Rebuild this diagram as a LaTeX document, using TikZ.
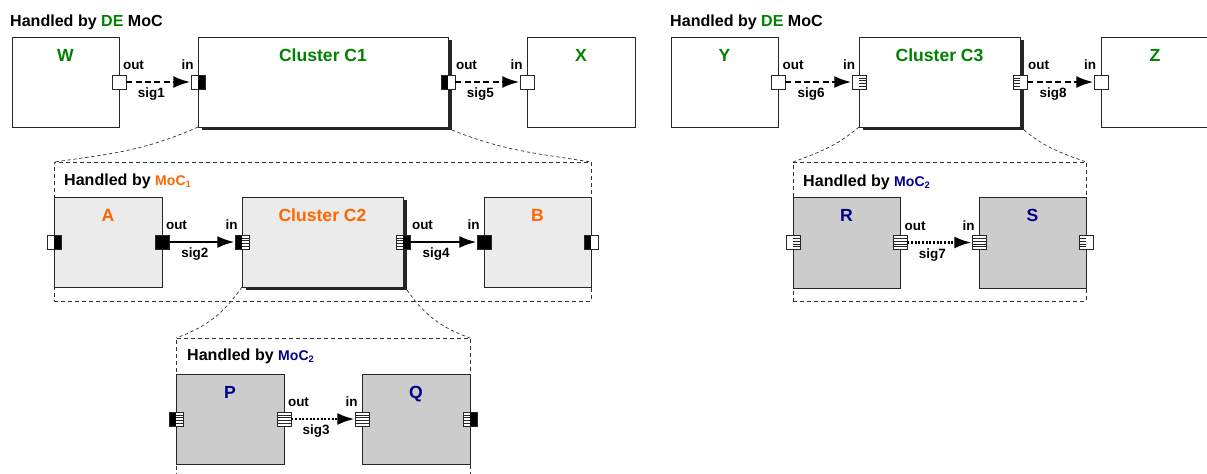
\documentclass[tikz,border=0pt]{standalone}
\usepackage{fontspec}
\setmainfont{Liberation Sans}
\usetikzlibrary{arrows.meta,positioning,calc,fit,shadows}
\definecolor{degreen}{RGB}{0,130,0}
\definecolor{mocorange}{RGB}{255,102,0}
\definecolor{mocblue}{RGB}{0,0,140}
\definecolor{boxlight}{gray}{0.92}
\definecolor{boxdark}{gray}{0.80}
\newcommand\grpfont{\fontsize{13.7}{16}\selectfont\bfseries}
\newcommand\ttlfont{\fontsize{15}{18}\selectfont\bfseries}
\newcommand\lblfont{\fontsize{11.5}{14}\selectfont\bfseries}
\newcommand\mocfont{\fontsize{12}{14}\selectfont}
% port halves: w = white, b = black, s = striped
\newcommand\prtw[1]{}
\newcommand\prtb[1]{\fill[black] (path picture bounding box.north #1) rectangle (path picture bounding box.south);}
\newcommand\prts[1]{\foreach \f in {0.2,0.4,0.6,0.8}
  \draw[line width=0.5pt] ($(path picture bounding box.north #1)!\f!(path picture bounding box.south #1)$) -- ($(path picture bounding box.north)!\f!(path picture bounding box.south)$);}
\tikzset{
  blk/.style={draw=black!85, line width=0.7pt, fill=white, inner sep=0pt, outer sep=0pt},
  clu/.style={blk, drop shadow={shadow xshift=0.12cm, shadow yshift=-0.09cm, fill=black!85, opacity=1}},
  grp/.style={draw=black!80, line width=0.6pt, dash pattern=on 0.12cm off 0.09cm, inner sep=0pt, outer sep=0pt},
  zoomln/.style={black!80, line width=0.6pt, dash pattern=on 0.1cm off 0.08cm},
  port/.style 2 args={draw=black!85, fill=white, line width=0.6pt, minimum size=0.42cm, inner sep=0pt,
    path picture={\csname prt#1\endcsname{west}\csname prt#2\endcsname{east}}},
  ttl/.style={font=\ttlfont, anchor=base, inner sep=0pt},
  grplbl/.style={font=\grpfont, anchor=base west, inner sep=0pt},
  plbl/.style={font=\lblfont, anchor=base, inner sep=0pt},
  sig/.style={font=\lblfont, anchor=base, inner sep=0pt, pos=0.39, yshift=-0.465cm},
  tip/.style={-{Latex[length=0.52cm,width=0.36cm]}},
  sigde/.style={tip, line width=2.3pt, dash pattern=on 0.18cm off 0.1cm},
  sigsolid/.style={tip, line width=2.2pt},
  sigdot/.style={tip, line width=2.3pt, dash pattern=on 0.06cm off 0.05cm}
}

\begin{document}
\begin{tikzpicture}[x=0.03cm, y=-0.03cm]
  \useasboundingbox (0,0) rectangle (1207,473);

  % group frames
  \node[grp, fit={(54,162) (591,301)}] (G1) {};
  \node[grp, fit={(176,338) (470,490)}] (G2) {};
  \node[grp, fit={(793,162) (1086,301)}] (G3) {};

  % DE level, left
  \node[grplbl] (h1) at (10,26) {Handled by \textcolor{degreen}{DE} MoC};
  \node[blk, fit={(12,37) (119,127)}] (W) {};
  \node[clu, fit={(198,37) (448,127)}] (C1) {};
  \node[blk, fit={(527,37) (635,127)}] (X) {};
  \draw[zoomln] (C1.south west) to[out=-156, in=8] (G1.north west);
  \draw[zoomln] ($(C1.south east)+(4,3)$) to[out=-22, in=171] (G1.north east);

  % MoC1 level
  \node[grplbl] (h2) at (64,185) {Handled by {\mocfont\color{mocorange}MoC\textsubscript{1}}};
  \node[blk, fill=boxlight, fit={(54,197) (162,287)}] (A) {};
  \node[clu, fill=boxlight, fit={(242,197) (403,287)}] (C2) {};
  \node[blk, fill=boxlight, fit={(484,197) (591,287)}] (B) {};
  \draw[zoomln] (C2.south west) to[out=-125, in=20] (G2.north west);
  \draw[zoomln] ($(C2.south east)+(4,3)$) to[out=-55, in=160] (G2.north east);

  % MoC2 level, below C2
  \node[grplbl] (h3) at (187,360) {Handled by {\mocfont\color{mocblue}MoC\textsubscript{2}}};
  \node[blk, fill=boxdark, fit={(176,374) (284,464)}] (P) {};
  \node[blk, fill=boxdark, fit={(362,374) (470,464)}] (Q) {};

  % DE level, right
  \node[grplbl] (h4) at (670,26) {Handled by \textcolor{degreen}{DE} MoC};
  \node[blk, fit={(671,37) (778,127)}] (Y) {};
  \node[clu, fit={(859,37) (1020,127)}] (C3) {};
  \node[blk, fit={(1101,37) (1209,127)}] (Z) {};
  \draw[zoomln] (C3.south west) to[out=-140, in=20] (G3.north west);
  \draw[zoomln] ($(C3.south east)+(4,3)$) to[out=-40, in=160] (G3.north east);

  % MoC2 level, below C3
  \node[grplbl] (h5) at (803,186) {Handled by {\mocfont\color{mocblue}MoC\textsubscript{2}}};
  \node[blk, fill=boxdark, fit={(793,197) (900,288)}] (R) {};
  \node[blk, fill=boxdark, fit={(979,197) (1086,288)}] (S) {};

  % titles
  \foreach \b/\t/\c in {W/W/degreen, C1/Cluster C1/degreen, X/X/degreen,
                        A/A/mocorange, C2/Cluster C2/mocorange, B/B/mocorange,
                        P/P/mocblue, Q/Q/mocblue,
                        Y/Y/degreen, C3/Cluster C3/degreen, Z/Z/degreen,
                        R/R/mocblue, S/S/mocblue}
    \node[ttl, text=\c] (\b-ttl) at ($(\b.north)+(0,24)$) {\t};

  % ports
  \node[port={w}{w}] (Wo) at (W.east) {};
  \node[port={w}{b}] (C1i) at (C1.west) {};
  \node[port={b}{w}] (C1o) at (C1.east) {};
  \node[port={w}{w}] (Xi) at (X.west) {};
  \node[port={w}{b}] (Al) at (A.west) {};
  \node[port={b}{b}] (Ao) at (A.east) {};
  \node[port={b}{s}] (C2i) at (C2.west) {};
  \node[port={s}{b}] (C2o) at (C2.east) {};
  \node[port={b}{b}] (Bi) at (B.west) {};
  \node[port={b}{w}] (Br) at (B.east) {};
  \node[port={b}{s}] (Pl) at (P.west) {};
  \node[port={s}{s}] (Po) at (P.east) {};
  \node[port={s}{s}] (Qi) at (Q.west) {};
  \node[port={s}{b}] (Qr) at (Q.east) {};
  \node[port={w}{w}] (Yo) at (Y.east) {};
  \node[port={w}{s}] (C3i) at (C3.west) {};
  \node[port={s}{w}] (C3o) at (C3.east) {};
  \node[port={w}{w}] (Zi) at (Z.west) {};
  \node[port={w}{s}] (Rl) at (R.west) {};
  \node[port={s}{s}] (Ro) at (R.east) {};
  \node[port={s}{s}] (Si) at (S.west) {};
  \node[port={s}{w}] (Sr) at (S.east) {};

  % port names
  \foreach \p/\t/\dx in {Wo/out/14.5, C1i/in/-10.5, C1o/out/18.5, Xi/in/-10.5,
                         Ao/out/14.5, C2i/in/-10.5, C2o/out/19.5, Bi/in/-10.5,
                         Po/out/14.5, Qi/in/-10.5,
                         Yo/out/15, C3i/in/-10, C3o/out/18.6, Zi/in/-11,
                         Ro/out/15, Si/in/-10.5}
    \node[plbl] (\p-lbl) at ($(\p)+(\dx,-12.5)$) {\t};

  % signals
  \draw[sigde] (Wo) -- (C1i) node[sig] (s1) {sig1};
  \draw[sigde] (C1o) -- (Xi) node[sig] (s5) {sig5};
  \draw[sigsolid] (Ao) -- (C2i) node[sig] (s2) {sig2};
  \draw[sigsolid] (C2o) -- (Bi) node[sig] (s4) {sig4};
  \draw[sigdot] (Po) -- (Qi) node[sig] (s3) {sig3};
  \draw[sigde] (Yo) -- (C3i) node[sig] (s6) {sig6};
  \draw[sigde] (C3o) -- (Zi) node[sig] (s8) {sig8};
  \draw[sigdot] (Ro) -- (Si) node[sig] (s7) {sig7};
\end{tikzpicture}
\end{document}
